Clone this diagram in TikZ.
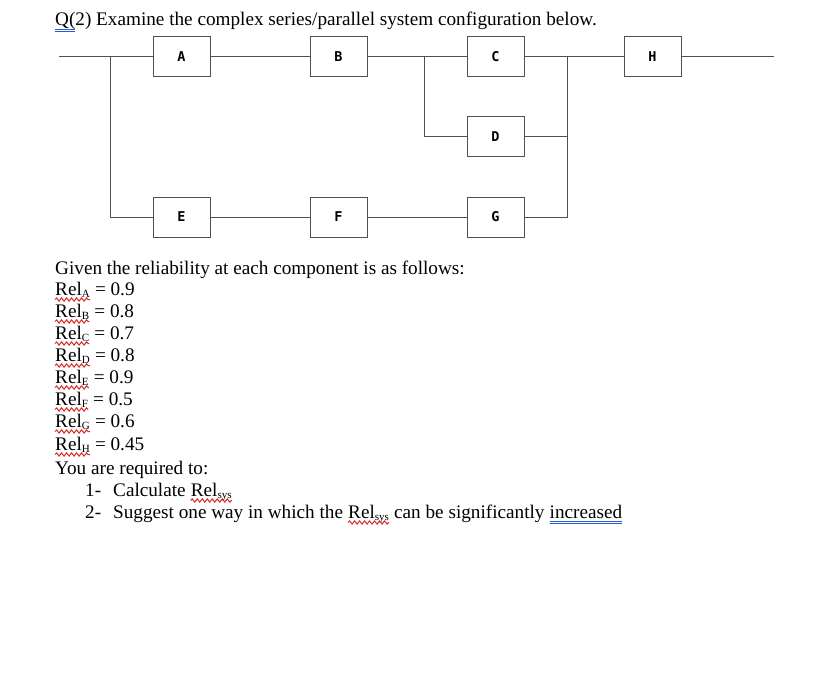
\documentclass[tikz,border=0pt]{standalone}
\usepackage{fontspec}
\setmainfont{Liberation Serif}
\newfontfamily\boxfont{DejaVu Sans Mono}[BoldFont={DejaVu Sans Mono Bold}]
\usetikzlibrary{decorations.pathmorphing}
\definecolor{linegray}{RGB}{80,80,80}
\definecolor{spellred}{RGB}{220,40,30}
\definecolor{gramblue}{RGB}{40,90,210}
\newcommand{\mysub}[1]{\raisebox{-2.5pt}{\fontsize{11}{11}\selectfont #1}}
\tikzset{
 comp/.style={draw=linegray, line width=1pt, minimum width=57pt, minimum height=40pt, inner sep=0pt, font=\boxfont\bfseries\fontsize{13.5}{13.5}\selectfont},
 wire/.style={draw=linegray, line width=1pt},
 txt/.style={inner sep=0pt, anchor=base west, font=\fontsize{19.2}{22}\selectfont},
 squig/.style={draw=spellred, line width=1pt, decorate, decoration={snake, amplitude=1.6pt, segment length=5pt}},
 gram/.style={draw=gramblue, line width=0.8pt},
}
\begin{document}
\begin{tikzpicture}[x=1pt,y=-1pt]
\useasboundingbox[fill=white] (0,0) rectangle (822,674);
% title
\node[txt] (title) at (55,26) {Q(2) Examine the complex series/parallel system configuration below.};
\draw[gram] (55,29.5) -- (75,29.5);
\draw[gram] (55,31) -- (75,31);
% components
\node[comp] (A) at (181.5,57) {A};
\node[comp] (B) at (338.5,57) {B};
\node[comp] (C) at (495.5,57) {C};
\node[comp] (H) at (652.5,57) {H};
\node[comp] (D) at (495.5,137) {D};
\node[comp] (E) at (181.5,217) {E};
\node[comp] (F) at (338.5,217) {F};
\node[comp] (G) at (495.5,217) {G};
\coordinate (in) at (59,57);
\coordinate (out) at (774,57);
\coordinate (j1) at (110,57);
\coordinate (j2) at (424,57);
\coordinate (j3) at (567,57);
% wires
\draw[wire] (in) -- (A.west);
\draw[wire] (A.east) -- (B.west);
\draw[wire] (B.east) -- (C.west);
\draw[wire] (C.east) -- (H.west);
\draw[wire] (H.east) -- (out);
\draw[wire] (j1) |- (E.west);
\draw[wire] (E.east) -- (F.west);
\draw[wire] (F.east) -- (G.west);
\draw[wire] (G.east) -| (j3);
\draw[wire] (j2) |- (D.west);
\draw[wire] (D.east) -- (D.east -| j3);
% text
\node[txt] (given) at (55,274) {Given the reliability at each component is as follows:};
\foreach \n/\s/\v/\y in {a/A/0.9/295, b/B/0.8/317, c/C/0.7/339, d/D/0.8/361, e/E/0.9/383, f/F/0.5/405, g/G/0.6/427, h/H/0.45/450}{
  \node[txt] (rel\n) at (55,\y) {Rel\mysub{\s}};
  \node[txt] (val\n) at (rel\n.base east) {\mbox{}\ = \v};
  \draw[squig] ([yshift=-4.5pt]rel\n.base west) -- ([yshift=-4.5pt]rel\n.base east);
}
\node[txt] (req) at (55,474) {You are required to:};
\node[txt] (n1) at (85,496) {1-};
\node[txt] (calc) at (113,496) {Calculate\ \mbox{}};
\node[txt] (rs1) at (calc.base east) {Rel\mysub{sys}};
\draw[squig] ([yshift=-4.5pt]rs1.base west) -- ([yshift=-4.5pt]rs1.base east);
\node[txt] (n2) at (85,518) {2-};
\node[txt] (sug) at (113,518) {Suggest one way in which the\ \mbox{}};
\node[txt] (rs2) at (sug.base east) {Rel\mysub{sys}};
\draw[squig] ([yshift=-4.5pt]rs2.base west) -- ([yshift=-4.5pt]rs2.base east);
\node[txt] (can) at (rs2.base east) {\mbox{}\ can be significantly\ \mbox{}};
\node[txt] (inc) at (can.base east) {increased};
\draw[gram] ([yshift=-3.5pt]inc.base west) -- ([yshift=-3.5pt]inc.base east);
\draw[gram] ([yshift=-5.2pt]inc.base west) -- ([yshift=-5.2pt]inc.base east);
\end{tikzpicture}
\end{document}
